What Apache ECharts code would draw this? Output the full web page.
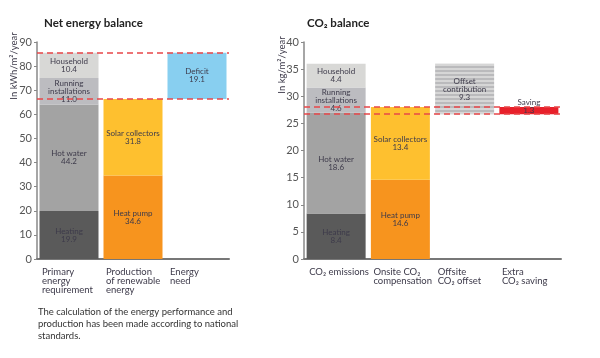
<!DOCTYPE html>
<html>
<head>
<meta charset="utf-8">
<script src="https://cdn.jsdelivr.net/npm/echarts@6/dist/echarts.min.js"></script>
<style>html,body{margin:0;padding:0;background:#fff}#c{width:600px;height:358px}</style>
</head>
<body>
<div id="c"></div>
<script>
// ---- Data: Net energy balance (kWh/m²/year) ----
var energyCategories = ['Primary\nenergy\nrequirement', 'Production\nof renewable\nenergy', 'Energy\nneed'];
var energyHeating   = [19.9, '-', '-'];
var energyHotWater  = [44.2, '-', '-'];
var energyRunning   = [11.0, '-', '-'];
var energyHousehold = [10.4, '-', '-'];
var energyHeatPump  = ['-', 34.6, '-'];
var energySolar     = ['-', 31.8, '-'];
var energyDeficit   = ['-', '-', 19.1];
var energyTicks = [0, 90, 10];

// ---- Data: CO2 balance (kg/m²/year) ----
var co2Categories = ['CO₂ emissions', 'Onsite CO₂\ncompensation', 'Offsite\nCO₂ offset', 'Extra\nCO₂ saving'];
var co2Heating   = [8.4, '-', '-', '-'];
var co2HotWater  = [18.6, '-', '-', '-'];
var co2Running   = [4.6, '-', '-', '-'];
var co2Household = [4.4, '-', '-', '-'];
var co2HeatPump  = ['-', 14.6, '-', '-'];
var co2Solar     = ['-', 13.4, '-', '-'];
var co2Offset    = ['-', '-', 9.3, '-'];
var co2Saving    = ['-', '-', '-', 1.3];
var co2Ticks = [0, 40, 5];

// derived levels
var energyPrimaryTotal = +(energyHeating[0] + energyHotWater[0] + energyRunning[0] + energyHousehold[0]).toFixed(1);
var energyRenewTotal = +(energyHeatPump[1] + energySolar[1]).toFixed(1);
var energyDeficitBase = ['-', '-', energyRenewTotal];
var co2EmTotal = +(co2Heating[0] + co2HotWater[0] + co2Running[0] + co2Household[0]).toFixed(1);
var co2OnsiteTotal = +(co2HeatPump[1] + co2Solar[1]).toFixed(1);
var co2OffsetLevel = +(co2EmTotal - co2Offset[2]).toFixed(1);
var co2OffsetBase = ['-', '-', co2OffsetLevel, '-'];
var co2SavingBase = ['-', '-', '-', co2OffsetLevel];

var FONT = 'Lato';
var TXT = '#3d3a4a';

// striped pattern for offset contribution
var pc = document.createElement('canvas');
pc.width = 4; pc.height = 4;
var pctx = pc.getContext('2d');
pctx.fillStyle = '#d6d6d6'; pctx.fillRect(0, 0, 4, 4);
pctx.fillStyle = '#bababc'; pctx.fillRect(0, 2, 4, 2);

function segLabel(name, extra) {
  var o = {
    show: true, position: 'inside', fontFamily: FONT, fontSize: 8, lineHeight: 8,
    color: TXT,
    formatter: function (p) { return name + '\n' + Number(p.value).toFixed(1); }
  };
  if (extra) for (var k in extra) o[k] = extra[k];
  return o;
}
function bar(idx, stack, name, data, color, label) {
  return {
    type: 'bar', xAxisIndex: idx, yAxisIndex: idx, stack: stack, data: data,
    barWidth: 59, itemStyle: { color: color }, label: label, silent: true, animation: false
  };
}
function baseBar(idx, stack, data) {
  return {
    type: 'bar', xAxisIndex: idx, yAxisIndex: idx, stack: stack, data: data,
    barWidth: 59, itemStyle: { color: 'rgba(0,0,0,0)' }, silent: true, animation: false
  };
}
function dashLines(idx, levels) {
  return {
    type: 'line', xAxisIndex: idx, yAxisIndex: idx, data: [], silent: true, animation: false,
    markLine: {
      symbol: 'none', silent: true, animation: false, label: { show: false },
      lineStyle: { color: '#e8474a', type: [6, 4], width: 1.5 },
      data: levels.map(function (v) { return { yAxis: v }; })
    }
  };
}
function catAxis(idx, cats) {
  return {
    type: 'category', gridIndex: idx, data: cats,
    axisLine: { lineStyle: { color: '#777', width: 2 } },
    axisTick: { show: false },
    axisLabel: {
      interval: 0, margin: 8, align: 'center',
      formatter: function (v) {
        return v.split('\n').map(function (s) { return '{a|' + s + '}'; }).join('\n');
      },
      rich: { a: { width: 54, align: 'left', fontFamily: FONT, fontSize: 9.5, lineHeight: 9, color: TXT } }
    }
  };
}
function valAxis(idx, t) {
  return {
    type: 'value', gridIndex: idx, min: t[0], max: t[1], interval: t[2],
    axisLine: { show: true, lineStyle: { color: '#888', width: 1.5 } },
    axisTick: { show: true, length: 3, lineStyle: { color: '#888' } },
    splitLine: { show: false },
    axisLabel: { margin: 5, fontFamily: FONT, fontSize: 11, color: '#555' }
  };
}

var chart = echarts.init(document.getElementById('c'), null, { renderer: 'canvas' });
chart.setOption({
  animation: false,
  title: [
    { text: 'Net energy balance', left: 39, top: 12, textStyle: { fontFamily: FONT, fontSize: 11.5, fontWeight: 'bold', color: '#222' } },
    { text: 'CO₂ balance', left: 302, top: 12, textStyle: { fontFamily: FONT, fontSize: 11.5, fontWeight: 'bold', color: '#222' } }
  ],
  grid: [
    { left: 37, top: 42, width: 192, height: 217 },
    { left: 304, top: 42, width: 257, height: 217 }
  ],
  xAxis: [catAxis(0, energyCategories), catAxis(1, co2Categories)],
  yAxis: [valAxis(0, energyTicks), valAxis(1, co2Ticks)],
  graphic: [
    { type: 'text', x: 14, y: 66, rotation: Math.PI / 2,
      style: { text: 'In kWh/m²/year', font: '9.5px ' + FONT, fill: TXT, align: 'center', verticalAlign: 'middle' } },
    { type: 'text', x: 282, y: 65, rotation: Math.PI / 2,
      style: { text: 'In kg/m²/year', font: '9.5px ' + FONT, fill: TXT, align: 'center', verticalAlign: 'middle' } },
    { type: 'text', x: 38, y: 306,
      style: { text: 'The calculation of the energy performance and\nproduction has been made according to national\nstandards.',
        font: '9.5px ' + FONT, lineHeight: 12, fill: '#333' } }
  ],
  series: [
    bar(0, 'e', 'Heating', energyHeating, '#5a5a5a', segLabel('Heating')),
    bar(0, 'e', 'Hot water', energyHotWater, '#a3a3a3', segLabel('Hot water')),
    bar(0, 'e', 'Running installations', energyRunning, '#bcbcc0', segLabel('Running\ninstallations')),
    bar(0, 'e', 'Household', energyHousehold, '#d8d8d6', segLabel('Household')),
    bar(0, 'e', 'Heat pump', energyHeatPump, '#f7941e', segLabel('Heat pump')),
    bar(0, 'e', 'Solar collectors', energySolar, '#fec02f', segLabel('Solar collectors')),
    baseBar(0, 'e', energyDeficitBase),
    bar(0, 'e', 'Deficit', energyDeficit, '#88cff0', segLabel('Deficit')),
    dashLines(0, [energyPrimaryTotal, energyRenewTotal]),

    bar(1, 'c', 'Heating', co2Heating, '#5a5a5a', segLabel('Heating')),
    bar(1, 'c', 'Hot water', co2HotWater, '#a3a3a3', segLabel('Hot water')),
    bar(1, 'c', 'Running installations', co2Running, '#bcbcc0', segLabel('Running\ninstallations')),
    bar(1, 'c', 'Household', co2Household, '#d8d8d6', segLabel('Household')),
    bar(1, 'c', 'Heat pump', co2HeatPump, '#f7941e', segLabel('Heat pump')),
    bar(1, 'c', 'Solar collectors', co2Solar, '#fec02f', segLabel('Solar collectors')),
    baseBar(1, 'c', co2OffsetBase),
    bar(1, 'c', 'Offset contribution', co2Offset, { image: pc, repeat: 'repeat' }, segLabel('Offset\ncontribution')),
    baseBar(1, 'c', co2SavingBase),
    bar(1, 'c', 'Saving', co2Saving, '#e8202a', segLabel('Saving', { offset: [0, -4] })),
    dashLines(1, [co2OnsiteTotal, co2OffsetLevel])
  ]
});
</script>
</body>
</html>
